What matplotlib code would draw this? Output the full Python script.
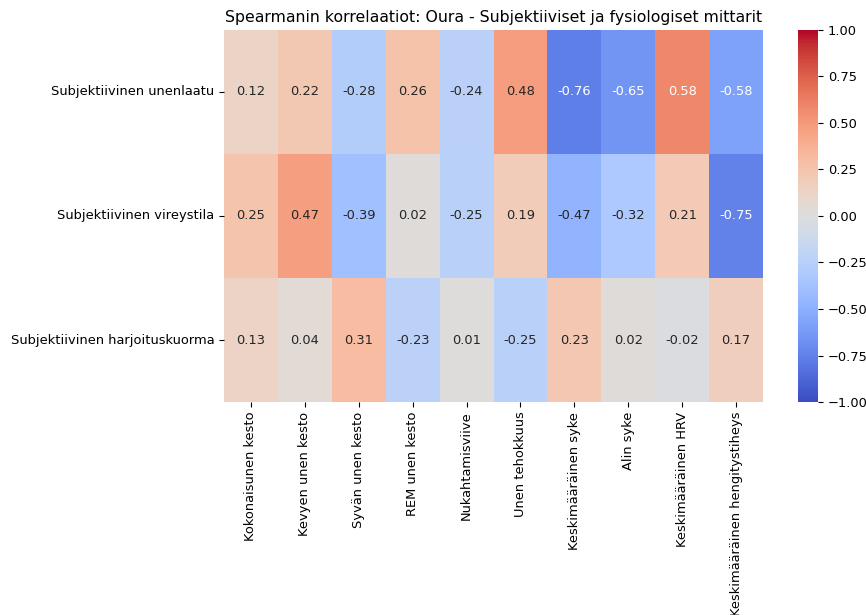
import matplotlib
matplotlib.use("Agg")
import matplotlib.pyplot as plt
import seaborn as sns
import numpy as np
import pandas as pd

row_labels = [
    "Subjektiivinen unenlaatu",
    "Subjektiivinen vireystila",
    "Subjektiivinen harjoituskuorma",
]
col_labels = [
    "Kokonaisunen kesto",
    "Kevyen unen kesto",
    "Syvän unen kesto",
    "REM unen kesto",
    "Nukahtamisviive",
    "Unen tehokkuus",
    "Keskimääräinen syke",
    "Alin syke",
    "Keskimääräinen HRV",
    "Keskimääräinen hengitystiheys",
]
unenlaatu = [0.12, 0.22, -0.28, 0.26, -0.24, 0.48, -0.76, -0.65, 0.58, -0.58]
vireystila = [0.25, 0.47, -0.39, 0.02, -0.25, 0.19, -0.47, -0.32, 0.21, -0.75]
harjoituskuorma = [0.13, 0.04, 0.31, -0.23, 0.01, -0.25, 0.23, 0.02, -0.02, 0.17]

corr = pd.DataFrame([unenlaatu, vireystila, harjoituskuorma],
                    index=row_labels, columns=col_labels)

fs = 9.4
fig = plt.figure(figsize=(8.66, 6.15), dpi=100)
ax = fig.add_axes([0.2587, 0.3463, 0.6224, 0.605])
cax = fig.add_axes([0.9215, 0.3463, 0.023, 0.605])

sns.heatmap(corr, annot=True, fmt=".2f", cmap="coolwarm", vmin=-1, vmax=1,
            ax=ax, cbar_ax=cax, annot_kws={"size": fs})
ax.set_title("Spearmanin korrelaatiot: Oura - Subjektiiviset ja fysiologiset mittarit",
             fontsize=11.3)
ax.tick_params(axis="x", labelrotation=90, labelsize=fs)
ax.tick_params(axis="y", labelrotation=0, labelsize=fs)
cax.tick_params(labelsize=fs)

fig.savefig("out.png", dpi=100)
